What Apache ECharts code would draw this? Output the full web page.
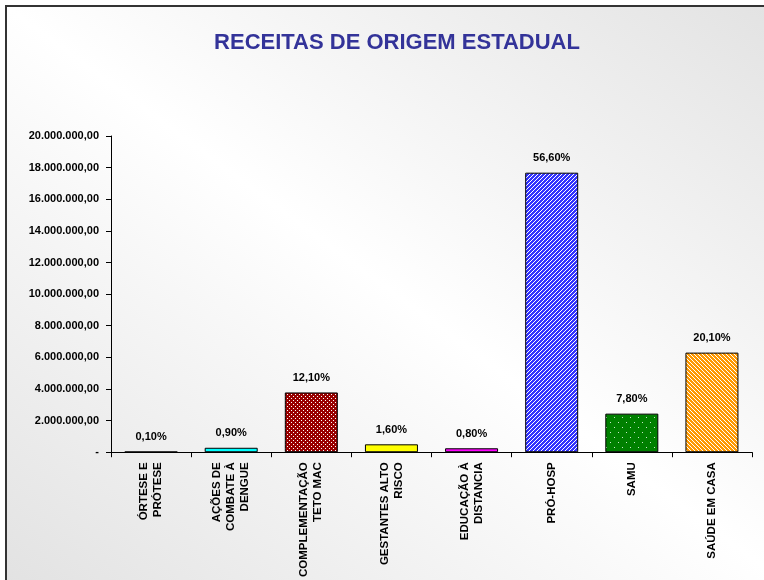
<!DOCTYPE html>
<html>
<head>
<meta charset="utf-8">
<script src="https://cdn.jsdelivr.net/npm/echarts@6/dist/echarts.min.js"></script>
<style>
  html, body { margin: 0; padding: 0; background: #fff; }
  #chart { width: 764px; height: 580px; }
</style>
</head>
<body>
<div id="chart"></div>
<script>
const categories = [
    "ÓRTESE E\nPRÓTESE",
    "AÇÕES DE\nCOMBATE À\nDENGUE",
    "COMPLEMENTAÇÃO\nTETO MAC",
    "GESTANTES ALTO\nRISCO",
    "EDUCAÇÃO À\nDISTANCIA",
    "PRÓ-HOSP",
    "SAMU",
    "SAÚDE EM CASA"
];
const values = [31000, 281000, 3780000, 500000, 250000, 17680000, 2440000, 6300000];
const shares = ["0,10%", "0,90%", "12,10%", "1,60%", "0,80%", "56,60%", "7,80%", "20,10%"];
const yMax = 20000000;
const yStep = 2000000;

const FONT = "'Liberation Sans', Arial, sans-serif";

// small canvas tiles used as bar fills
function pattern(w, h, bg, draw) {
    let c = document.createElement("canvas");
    c.width = w;
    c.height = h;
    let ctx = c.getContext("2d");
    ctx.fillStyle = bg;
    ctx.fillRect(0, 0, w, h);
    ctx.fillStyle = "#fff";
    draw(ctx);
    return { image: c, repeat: "repeat" };
}

const dotsRed = pattern(4, 4, "#990000", (ctx) => {
    ctx.fillRect(1, 0, 1, 1);
    ctx.fillRect(3, 2, 1, 1);
});
const stripesBlue = pattern(4, 4, "#3333ff", (ctx) => {
    for (let y = 0; y < 4; y++) {
        ctx.fillRect((3 - y + 4) % 4, y, 1, 1);
    }
});
const dotsGreen = pattern(8, 10, "#008000", (ctx) => {
    ctx.fillStyle = "#c8e8c8";
    ctx.fillRect(2, 2, 1, 1);
    ctx.fillRect(6, 7, 1, 1);
});
const stripesOrange = pattern(4, 4, "#ff9900", (ctx) => {
    for (let y = 0; y < 4; y++) {
        ctx.fillRect(y, y, 1, 1);
    }
});

const fills = ["#000080", "#00ffff", dotsRed, "#ffff00", "#ff00ff", stripesBlue, dotsGreen, stripesOrange];

function formatMoney(v) {
    if (v === 0) return "-";
    return String(v).replace(/\B(?=(\d{3})+(?!\d))/g, ".") + ",00";
}

let myChart = echarts.init(document.getElementById("chart"));

let option = {
    backgroundColor: "transparent",
    animation: false,
    graphic: [
        {
            type: "rect",
            z: -10,
            shape: { x: 6, y: 6, width: 783, height: 600 },
            style: {
                fill: new echarts.graphic.LinearGradient(120, 671, 675, -79, [
                    { offset: 0, color: "#e2e2e2" },
                    { offset: 0.5, color: "#ffffff" },
                    { offset: 1, color: "#e2e2e2" }
                ], true),
                stroke: "#333",
                lineWidth: 2
            }
        },
        {
            type: "text",
            x: 397,
            y: 43,
            style: {
                text: "RECEITAS DE ORIGEM ESTADUAL",
                fill: "#333399",
                font: "bold 22px " + FONT,
                textAlign: "center",
                textVerticalAlign: "middle"
            }
        }
    ],
    grid: {
        left: 111,
        right: 12,
        top: 136,
        bottom: 127
    },
    xAxis: {
        type: "category",
        data: categories,
        axisLine: { lineStyle: { color: "#000", width: 1 } },
        axisTick: { show: true, length: 5, lineStyle: { color: "#000" } },
        axisLabel: {
            interval: 0,
            rotate: 90,
            margin: 10,
            color: "#000",
            fontFamily: FONT,
            fontWeight: "bold",
            fontSize: 11.5,
            lineHeight: 14
        }
    },
    yAxis: {
        type: "value",
        min: 0,
        max: yMax,
        interval: yStep,
        splitLine: { show: false },
        axisLine: { show: true, lineStyle: { color: "#000", width: 1 } },
        axisTick: { show: true, length: 5, lineStyle: { color: "#000" } },
        axisLabel: {
            color: "#000",
            fontFamily: FONT,
            fontWeight: "bold",
            fontSize: 11,
            margin: 12,
            formatter: formatMoney
        }
    },
    series: [
        {
            type: "bar",
            barWidth: 53,
            data: values.map((v, i) => ({
                value: v,
                itemStyle: { color: fills[i] }
            })),
            itemStyle: {
                borderColor: "#000",
                borderWidth: 1
            },
            label: {
                show: true,
                position: "top",
                distance: 9,
                color: "#000",
                fontFamily: FONT,
                fontWeight: "bold",
                fontSize: 11,
                formatter: (p) => shares[p.dataIndex]
            }
        }
    ]
};

myChart.setOption(option);
</script>
</body>
</html>
